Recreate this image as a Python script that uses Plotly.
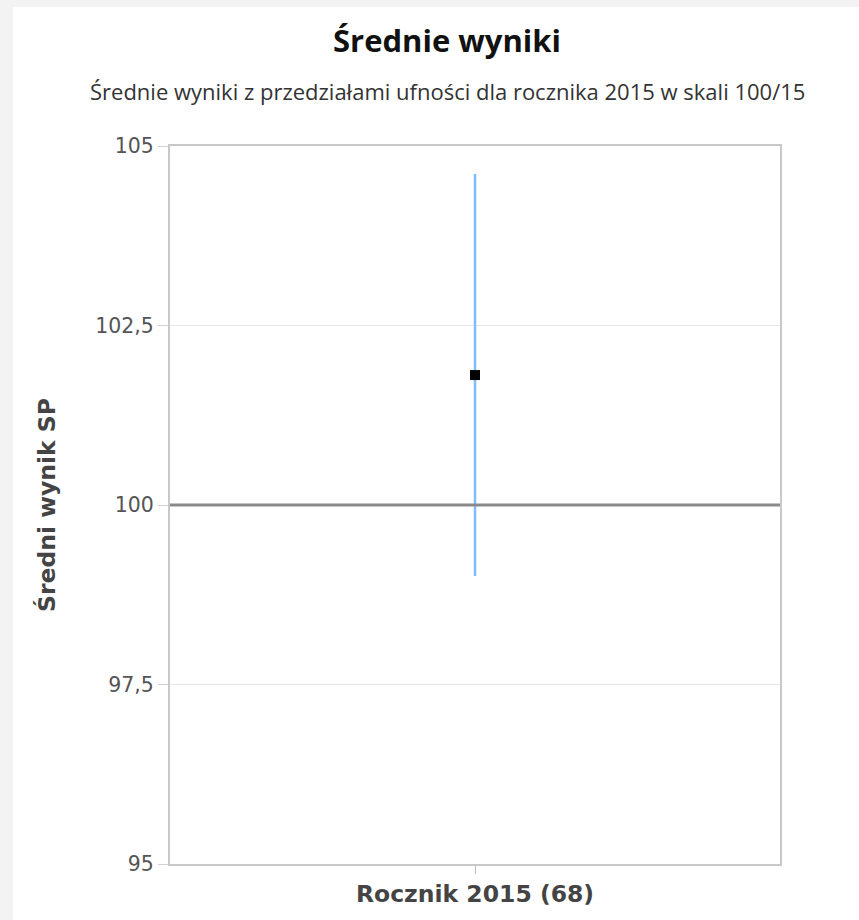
import plotly.graph_objects as go

categories = ["Rocznik 2015 (68)"]
means = [101.81]
ci_half = [2.80]
reference_value = 100
y_ticks = [95, 97.5, 100, 102.5, 105]
y_tick_labels = ["95", "97,5", "100", "102,5", "105"]

W, H = 859, 920
L, R, T, B = 170, 79, 146, 56
pw, ph = W - L - R, H - T - B

def px_x(x):
    return (x - L) / pw

def px_y(y):
    return (H - B - y) / ph

fig = go.Figure()
fig.add_trace(go.Scatter(
    x=categories, y=means, mode="markers",
    marker=dict(symbol="square", size=10, color="#000000"),
    error_y=dict(type="data", array=ci_half, visible=True,
                 color="#80bdf8", thickness=2.5, width=0),
    showlegend=False, hoverinfo="y",
))

fig.update_layout(
    width=W, height=H,
    margin=dict(l=L, r=R, t=T, b=B),
    paper_bgcolor="#f3f3f3",
    plot_bgcolor="#ffffff",
    title=dict(text="<b>Średnie wyniki</b>", x=447 / W, xanchor="center",
               xref="container", y=1 - 41 / H, yanchor="middle",
               font=dict(family="Open Sans", size=31, color="#111111")),
    xaxis=dict(
        type="category", range=[-0.5, 0.5],
        tickvals=categories,
        ticktext=["<b>" + c + "</b>" for c in categories],
        tickfont=dict(family="DejaVu Sans", size=23.5, color="#444444"),
        ticks="outside", ticklen=8, tickcolor="#bbbbbb", tickwidth=1,
        showline=True, linecolor="#c8c8c8", linewidth=2, mirror=True,
        showgrid=False, zeroline=False,
    ),
    yaxis=dict(
        range=[95, 105], tickvals=y_ticks, ticktext=y_tick_labels,
        tickfont=dict(family="DejaVu Sans", size=20.5, color="#555555"),
        ticks="outside", ticklen=10, tickcolor="#d0d0d0", tickwidth=1,
        showline=True, linecolor="#c8c8c8", linewidth=2, mirror=True,
        showgrid=True, gridcolor="#e6e6e6", gridwidth=1, zeroline=False,
    ),
    shapes=[
        dict(type="rect", xref="paper", yref="paper",
             x0=px_x(13), x1=px_x(W + 5), y0=px_y(H + 5), y1=px_y(7),
             fillcolor="#ffffff", line=dict(width=0), layer="below"),
        dict(type="line", xref="paper", yref="y", x0=0, x1=1,
             y0=reference_value, y1=reference_value,
             line=dict(color="#8a8a8a", width=3), layer="above"),
    ],
    annotations=[
        dict(text="Średnie wyniki z przedziałami ufności dla rocznika 2015 w skali 100/15",
             xref="paper", yref="paper", x=px_x(447), y=px_y(91),
             xanchor="center", yanchor="middle", showarrow=False,
             font=dict(family="Open Sans", size=22, color="#333333")),
        dict(text="<b>Średni wynik SP</b>", textangle=-90,
             xref="paper", yref="paper", x=px_x(47), y=px_y(505),
             xanchor="center", yanchor="middle", showarrow=False,
             font=dict(family="DejaVu Sans", size=23.5, color="#444444")),
    ],
)

fig.write_html("out.html", config={"displayModeBar": False},
               post_script="document.body.style.margin='0px';")
